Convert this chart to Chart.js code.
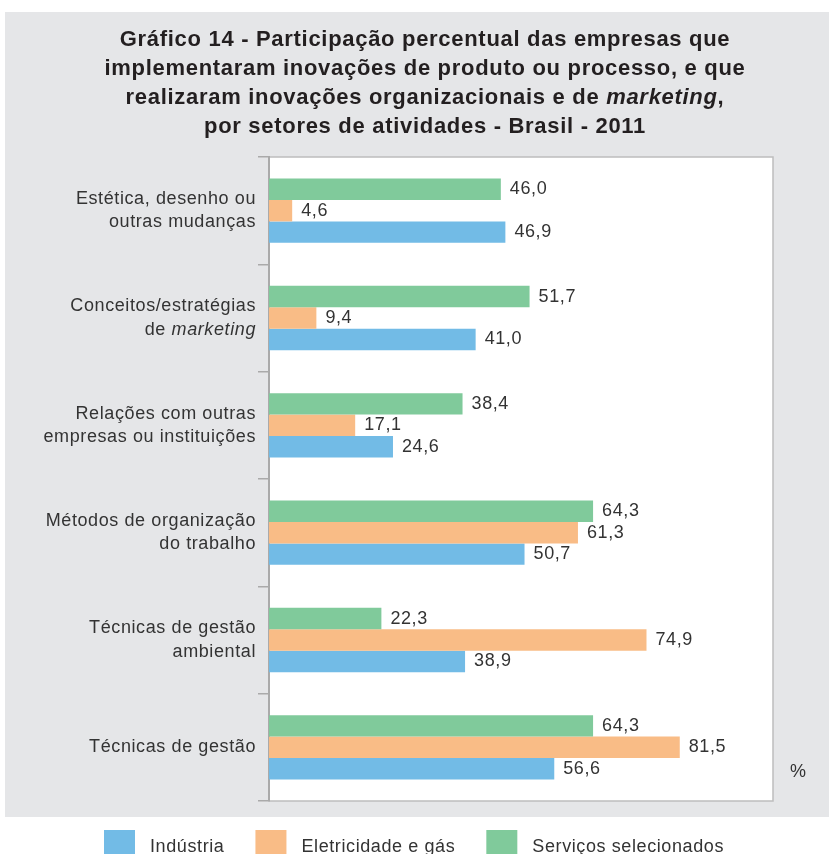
<!DOCTYPE html>
<html lang="pt-BR">
<head>
<meta charset="utf-8">
<title>Gráfico 14</title>
<script src="https://cdn.jsdelivr.net/npm/chart.js@4.4.1/dist/chart.umd.min.js"></script>
<style>
  html, body { margin: 0; padding: 0; background: #fff; }
  #wrap { width: 829px; height: 854px; }
</style>
</head>
<body>
<div id="wrap"><canvas id="grafico" width="829" height="854"></canvas></div>
<script>
// Título (trechos entre * em itálico)
const tituloLinhas = [
    'Gráfico 14 - Participação percentual das empresas que',
    'implementaram inovações de produto ou processo, e que',
    'realizaram inovações organizacionais e de *marketing*,',
    'por setores de atividades - Brasil - 2011'
];

// Categorias (uma linha por item do array)
const categorias = [
    ['Estética, desenho ou', 'outras mudanças'],
    ['Conceitos/estratégias', 'de *marketing*'],
    ['Relações com outras', 'empresas ou instituições'],
    ['Métodos de organização', 'do trabalho'],
    ['Técnicas de gestão', 'ambiental'],
    ['Técnicas de gestão']
];

// Valores (%)
const servicos     = [46.0, 51.7, 38.4, 64.3, 22.3, 64.3];
const eletricidade = [4.6, 9.4, 17.1, 61.3, 74.9, 81.5];
const industria    = [46.9, 41.0, 24.6, 50.7, 38.9, 56.6];

const cores = {
    industria: '#72bbe6',
    eletricidade: '#f9bc86',
    servicos: '#80ca9b'
};

const FONTE = '"Liberation Sans", Arimo, Arial, sans-serif';
const COR_TEXTO = '#333333';

// desenha texto com trechos em itálico marcados por *
function desenhaRico(ctx, texto, x, y, align, fonteBase) {
    const partes = texto.split('*');
    const larguras = [];
    let total = 0;
    partes.forEach(function(p, i) {
        ctx.font = (i % 2 ? 'italic ' : '') + fonteBase;
        const w = ctx.measureText(p).width;
        larguras.push(w);
        total += w;
    });
    let cx = x;
    if (align === 'right') cx = x - total;
    if (align === 'center') cx = x - total / 2;
    ctx.textAlign = 'left';
    partes.forEach(function(p, i) {
        ctx.font = (i % 2 ? 'italic ' : '') + fonteBase;
        ctx.fillText(p, cx, y);
        cx += larguras[i];
    });
}

function formata(v) {
    return v.toFixed(1).replace('.', ',');
}

// fundo cinza + área branca do gráfico
const fundo = {
    id: 'fundo',
    beforeDraw(chart) {
        const ctx = chart.ctx;
        const a = chart.chartArea;
        ctx.save();
        ctx.fillStyle = '#ffffff';
        ctx.fillRect(0, 0, chart.width, chart.height);
        ctx.fillStyle = '#e5e6e8';
        ctx.fillRect(5, 12, chart.width - 5, 805);
        ctx.fillStyle = '#ffffff';
        ctx.fillRect(a.left, a.top, a.right - a.left, a.bottom - a.top);
        ctx.strokeStyle = '#bdbdbd';
        ctx.lineWidth = 1.5;
        ctx.strokeRect(a.left, a.top, a.right - a.left, a.bottom - a.top);
        ctx.restore();
    }
};

// textos: título, rótulos, valores, legenda
const textos = {
    id: 'textos',
    afterDraw(chart) {
        const ctx = chart.ctx;
        const escalaY = chart.scales.y;
        ctx.save();
        ctx.textBaseline = 'middle';

        // título
        ctx.fillStyle = '#231f20';
        ctx.letterSpacing = '0.7px';
        tituloLinhas.forEach(function(linha, i) {
            desenhaRico(ctx, linha, 425, 40 + i * 29, 'center', 'bold 22px ' + FONTE);
        });

        ctx.fillStyle = COR_TEXTO;
        ctx.letterSpacing = '0.6px';

        // rótulos das categorias
        categorias.forEach(function(linhas, i) {
            const cy = escalaY.getPixelForValue(i);
            const y0 = cy - (linhas.length - 1) * 23.5 / 2;
            linhas.forEach(function(l, j) {
                desenhaRico(ctx, l, 256, y0 + j * 23.5, 'right', '18px ' + FONTE);
            });
        });

        // valores
        ctx.font = '18px ' + FONTE;
        ctx.textAlign = 'left';
        chart.data.datasets.forEach(function(ds, d) {
            const meta = chart.getDatasetMeta(d);
            meta.data.forEach(function(bar, i) {
                ctx.fillText(formata(ds.data[i]), bar.x + 9, bar.y);
            });
        });

        // unidade
        ctx.fillText('%', 790, 772);

        // legenda (ordem inversa dos datasets)
        let lx = 104;
        const itens = chart.data.datasets.slice().reverse();
        itens.forEach(function(ds) {
            ctx.fillStyle = ds.backgroundColor;
            ctx.fillRect(lx, 830, 31, 31);
            lx += 31 + 15;
            ctx.fillStyle = COR_TEXTO;
            ctx.font = '18px ' + FONTE;
            ctx.textBaseline = 'alphabetic';
            ctx.fillText(ds.label, lx, 852);
            lx += ctx.measureText(ds.label).width + 31;
        });
        ctx.restore();
    }
};

const ctx = document.getElementById('grafico').getContext('2d');
new Chart(ctx, {
    type: 'bar',
    data: {
        labels: categorias.map(function(c) { return c.join(' ').replace(/\*/g, ''); }),
        datasets: [
            { label: 'Serviços selecionados', data: servicos, backgroundColor: cores.servicos },
            { label: 'Eletricidade e gás', data: eletricidade, backgroundColor: cores.eletricidade },
            { label: 'Indústria', data: industria, backgroundColor: cores.industria }
        ]
    },
    options: {
        indexAxis: 'y',
        responsive: false,
        animation: false,
        categoryPercentage: 0.6,
        barPercentage: 1.0,
        layout: {
            padding: { left: 258, right: 56, top: 157, bottom: 53 }
        },
        plugins: {
            legend: { display: false },
            title: { display: false },
            tooltip: { enabled: false }
        },
        scales: {
            x: {
                display: false,
                min: 0,
                max: 100
            },
            y: {
                ticks: { display: false },
                grid: {
                    display: true,
                    drawOnChartArea: false,
                    drawTicks: true,
                    tickLength: 11,
                    color: '#aaaaaa',
                    lineWidth: 1.5
                },
                border: { display: true, color: '#aaaaaa', width: 2 }
            }
        }
    },
    plugins: [fundo, textos]
});
</script>
</body>
</html>
